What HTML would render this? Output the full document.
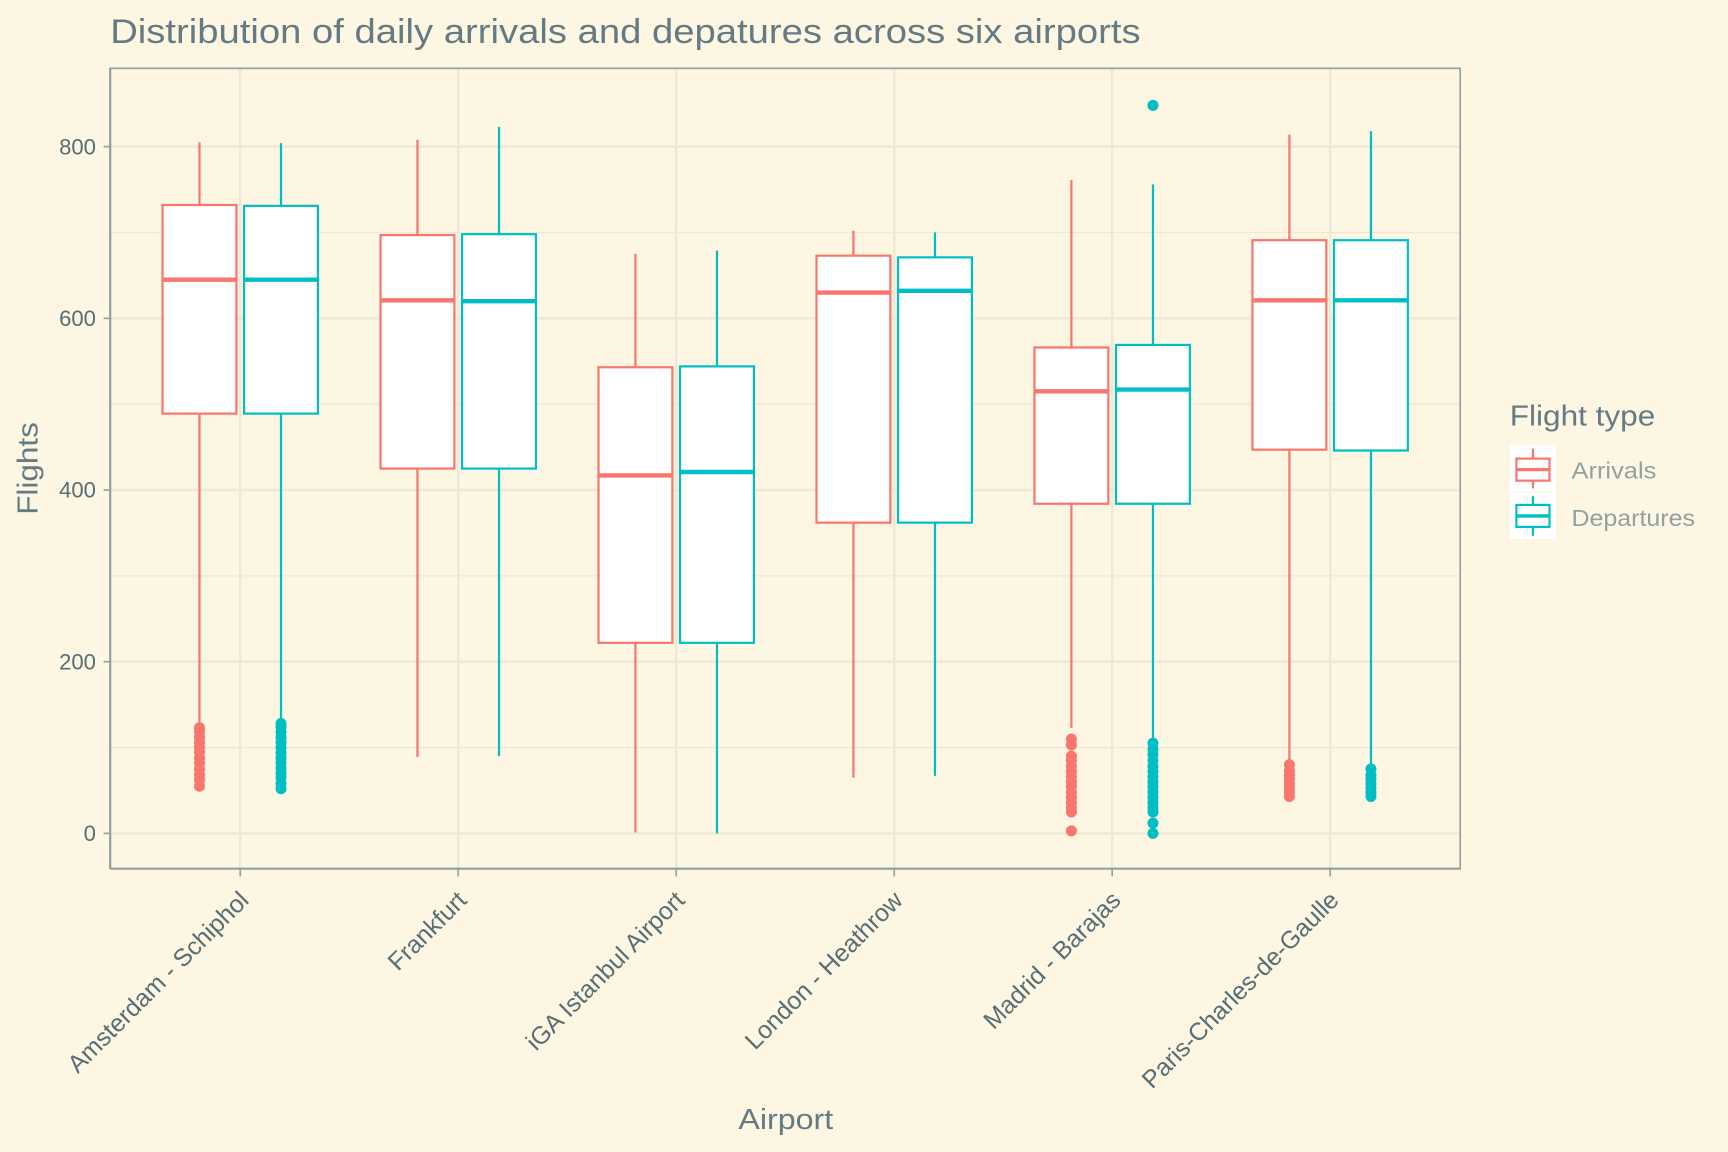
<!DOCTYPE html>
<html><head><meta charset="utf-8"><style>
html,body{margin:0;padding:0;background:#fdf6e3;}
svg{display:block;font-family:"Liberation Sans",sans-serif;}
</style></head><body>
<svg id="chart" width="1728" height="1152" viewBox="0 0 1568 1045" preserveAspectRatio="none" xmlns="http://www.w3.org/2000/svg">
<rect x="0" y="0" width="1568" height="1045" fill="#fdf6e3"/>
<text x="100" y="39" font-size="31" textLength="935" lengthAdjust="spacingAndGlyphs" fill="#657b83">Distribution of daily arrivals and depatures across six airports</text>
<g id="grid"></g>
<g id="marks"></g>
<rect x="100" y="62" width="1225" height="726" fill="none" stroke="#93a1a1" stroke-width="1.5"/>
<g id="axes"></g>
<text x="713" y="1024" font-size="26" textLength="86" lengthAdjust="spacingAndGlyphs" fill="#657b83" text-anchor="middle">Airport</text>
<text transform="translate(34,425) rotate(-90)" font-size="26" textLength="84" lengthAdjust="spacingAndGlyphs" fill="#657b83" text-anchor="middle">Flights</text>
<g>
<text x="1370" y="386" font-size="26" textLength="132" lengthAdjust="spacingAndGlyphs" fill="#657b83">Flight type</text>
<g>
<rect x="1370" y="404" width="42" height="42" fill="#fff"/>
<line x1="1391" y1="407" x2="1391" y2="443" stroke="#f8766d" stroke-width="2"/>
<rect x="1376" y="416" width="30" height="20" fill="#fff" stroke="#f8766d" stroke-width="2"/>
<line x1="1376" y1="426" x2="1406" y2="426" stroke="#f8766d" stroke-width="3"/>
<text x="1426" y="434" font-size="21" textLength="77" lengthAdjust="spacingAndGlyphs" fill="#93a1a1">Arrivals</text>
</g>
<g>
<rect x="1370" y="447" width="42" height="42" fill="#fff"/>
<line x1="1391" y1="450" x2="1391" y2="486" stroke="#00bfc4" stroke-width="2"/>
<rect x="1376" y="458" width="30" height="20" fill="#fff" stroke="#00bfc4" stroke-width="2"/>
<line x1="1376" y1="468" x2="1406" y2="468" stroke="#00bfc4" stroke-width="3"/>
<text x="1426" y="477" font-size="21" textLength="112" lengthAdjust="spacingAndGlyphs" fill="#93a1a1">Departures</text>
</g>
</g>
</svg>
<script>
const categories = ["Amsterdam - Schiphol","Frankfurt","iGA Istanbul Airport","London - Heathrow","Madrid - Barajas","Paris-Charles-de-Gaulle"];
const series = ["Arrivals","Departures"];
const yTicks = [0,200,400,600,800];
// [lowerWhisker, q1, median, q3, upperWhisker]
const arrivalsStats = [[128,489,645,732,805],[89,425,621,697,808],[1,222,417,543,675],[65,362,630,673,702],[123,384,515,566,761],[83,447,621,691,814]];
const departuresStats = [[130,489,645,731,804],[90,425,620,698,823],[0,222,421,544,679],[67,362,632,671,700],[107,384,517,569,756],[77,446,621,691,818]];
const arrivalsOutliers = [[55,62,68,75,82,88,95,100,106,112,118,123],[],[],[],[3,25,30,36,42,48,55,60,66,72,78,85,90,103,110],[43,48,53,58,63,68,73,80]];
const departuresOutliers = [[52,58,65,70,76,82,88,94,100,106,112,118,124,128],[],[],[],[0,12,25,30,36,42,48,54,60,66,72,78,85,92,98,105,848],[43,48,53,58,63,68,75]];

const NS="http://www.w3.org/2000/svg";
const X0=100,X1=1325,Y0=62,Y1=788;
const yScale=v=>756-v*0.77875;
const xScale=i=>218+i*197.8;
const colors=["#f8766d","#00bfc4"];
function mk(tag,attrs,parent){const e=document.createElementNS(NS,tag);for(const k in attrs)e.setAttribute(k,attrs[k]);parent.appendChild(e);return e;}
const grid=document.getElementById('grid'),marks=document.getElementById('marks'),axes=document.getElementById('axes');
mk('rect',{x:X0,y:Y0,width:X1-X0,height:Y1-Y0,fill:'#fdf6e3'},grid);
for(let i=0;i<yTicks.length;i++){
  const v=yTicks[i],y=yScale(v);
  const g=mk('line',{x1:X0,x2:X1,y1:y,y2:y,stroke:'#eee8d5','stroke-width':2.2},grid);
  
  
  if(i<yTicks.length-1){const ym=yScale(v+100);mk('line',{x1:X0,x2:X1,y1:ym,y2:ym,stroke:'#eee8d5','stroke-width':1.2},grid);}
  const t=mk('text',{x:87,y:y+7,'font-size':20,fill:'#586e75','text-anchor':'end'},axes);
  t.textContent=v;
  
  
  mk('line',{x1:94,x2:100,y1:y,y2:y,stroke:'#93a1a1','stroke-width':1.5},axes);
}
mk('line',{x1:X0,x2:X0,y1:Y0,y2:Y1,stroke:'#93a1a1','stroke-width':2},axes);
mk('line',{x1:X0,x2:X1,y1:Y1,y2:Y1,stroke:'#93a1a1','stroke-width':2},axes);
categories.forEach((c,i)=>{
  const x=xScale(i);
  const gl=mk('line',{x1:x,x2:x,y1:Y0,y2:Y1,stroke:'#eee8d5','stroke-width':2.2},grid);
  
  
  mk('line',{x1:x,x2:x,y1:Y1,y2:Y1+7,stroke:'#93a1a1','stroke-width':1.5},axes);
  const t=mk('text',{transform:`translate(${x+9},${Y1+30}) rotate(-45)`,'font-size':22.5,fill:'#586e75','text-anchor':'end'},axes);
  t.textContent=c;
  
  
});
[arrivalsStats,departuresStats].forEach((stats,s)=>{
  const outs=s===0?arrivalsOutliers:departuresOutliers;
  stats.forEach((st,i)=>{
    const cx=xScale(i)+(s===0?-37:37),col=colors[s],hw=33.5;
    const g=mk('g',{},marks);
    
    
    mk('line',{x1:cx,x2:cx,y1:yScale(st[0]),y2:yScale(st[1]),stroke:col,'stroke-width':2},g);
    mk('line',{x1:cx,x2:cx,y1:yScale(st[3]),y2:yScale(st[4]),stroke:col,'stroke-width':2},g);
    mk('rect',{x:cx-hw,y:yScale(st[3]),width:hw*2,height:yScale(st[1])-yScale(st[3]),fill:'#fff',stroke:col,'stroke-width':2},g);
    mk('line',{x1:cx-hw,x2:cx+hw,y1:yScale(st[2]),y2:yScale(st[2]),stroke:col,'stroke-width':4},g);
    outs[i].forEach(v=>{
      const p=mk('circle',{cx:cx,cy:yScale(v),r:5,fill:col},g);
      
      
    });
  });
});
</script>
</body></html>
